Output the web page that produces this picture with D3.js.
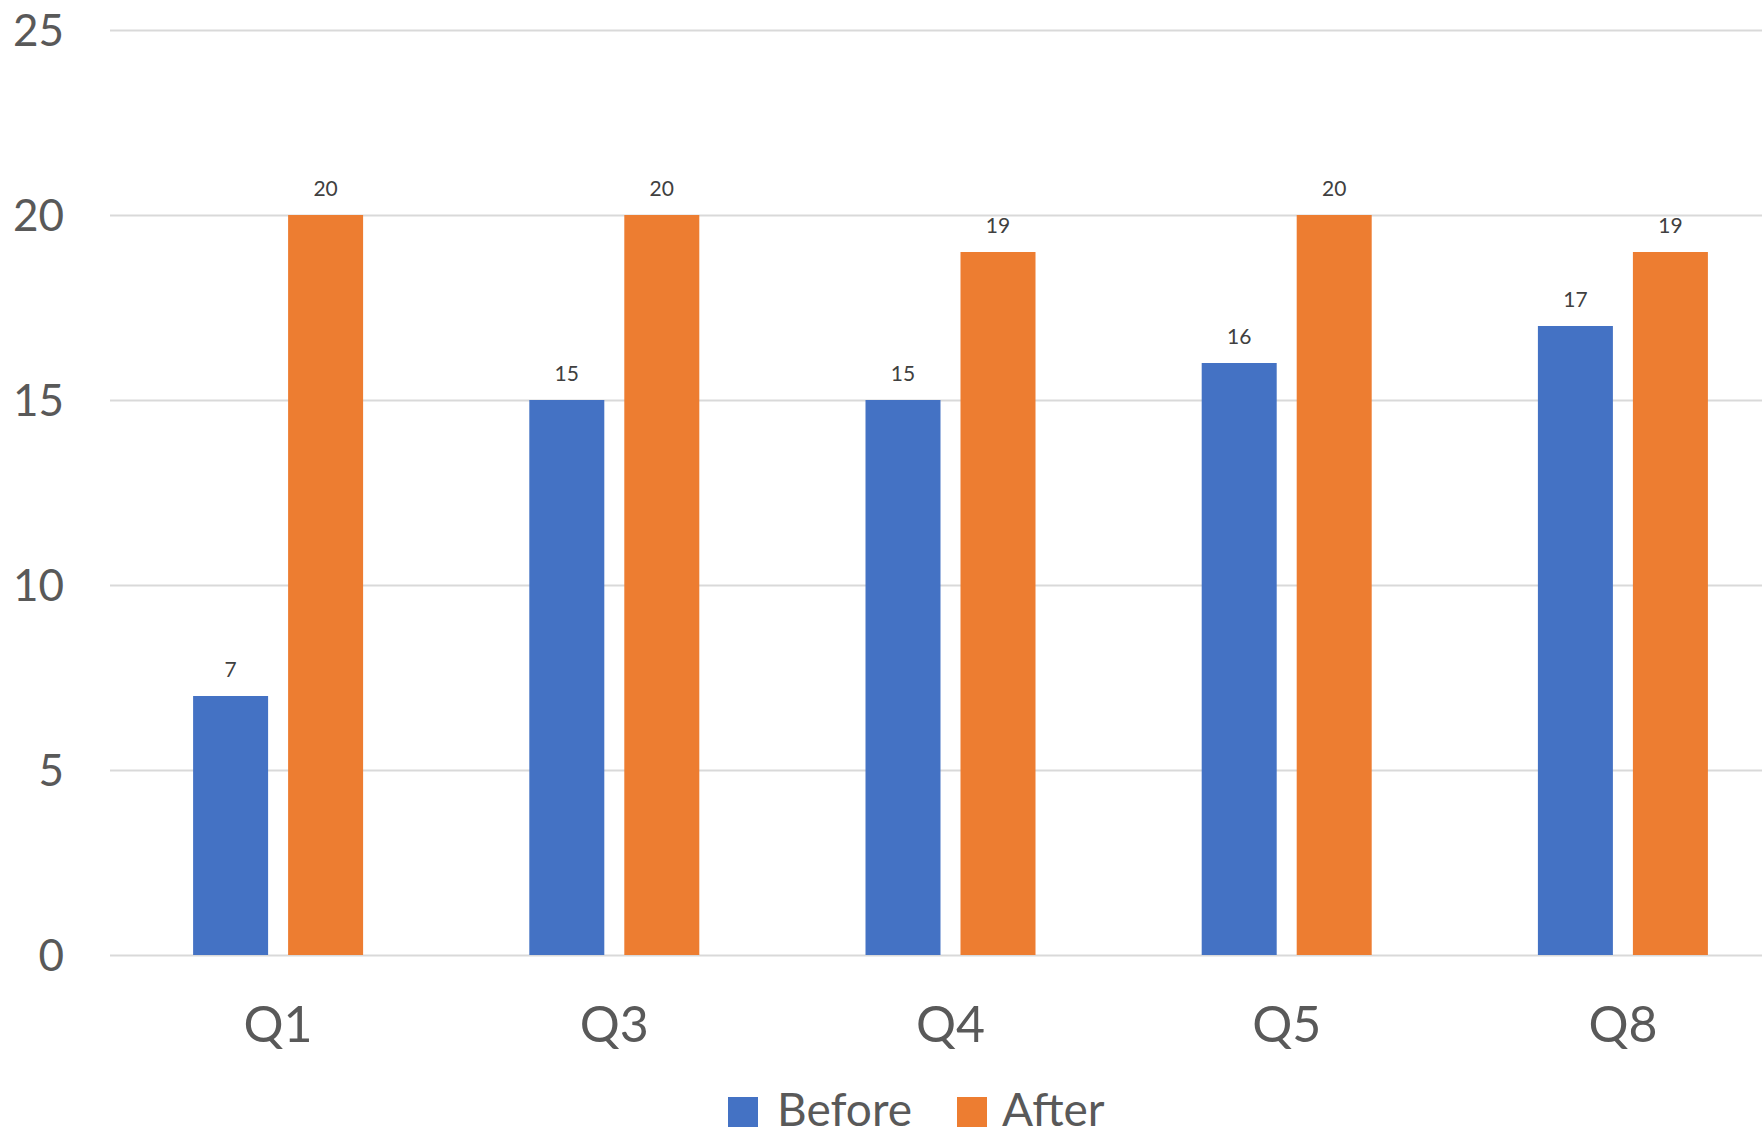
<!DOCTYPE html>
<html>
<head>
<meta charset="utf-8">
<script src="https://cdn.jsdelivr.net/npm/d3@7"></script>
<style>
  html, body { margin: 0; padding: 0; background: #ffffff; overflow: hidden; }
  svg { display: block; font-family: Lato, "Open Sans", sans-serif; }
</style>
</head>
<body>
<svg id="chart" width="1762" height="1133"></svg>
<script>
// Survey questions and scores before / after
const categories = ["Q1", "Q3", "Q4", "Q5", "Q8"];
const seriesNames = ["Before", "After"];
const beforeValues = [7, 15, 15, 16, 17];
const afterValues = [20, 20, 19, 20, 19];
const yTicks = [0, 5, 10, 15, 20, 25];

const colors = { Before: "#4472C4", After: "#ED7D31" };
const rows = categories.map((c, i) => ({ cat: c, Before: beforeValues[i], After: afterValues[i] }));

const svg = d3.select("#chart");
const W = 1762;
const plotLeft = 110, plotRight = 1791, plotTop = 30, plotBottom = 955;

const x = d3.scaleBand().domain(categories).range([plotLeft, plotRight]).paddingInner(0).paddingOuter(0);
const groupW = 170;
const x1 = d3.scaleBand().domain(seriesNames).range([0, groupW]).paddingInner(2 - groupW / 95).paddingOuter(0);
const y = d3.scaleLinear().domain([0, 25]).range([plotBottom, plotTop]);

// Horizontal gridlines
const grid = svg.append("g")
  .attr("transform", `translate(${plotLeft},0)`)
  .call(d3.axisLeft(y).tickValues(yTicks).tickSize(-(W - plotLeft)).tickFormat(""));
grid.select(".domain").remove();
grid.selectAll("line").attr("stroke", "#d9d9d9").attr("stroke-width", 2);

// Y tick labels
const yAxis = svg.append("g")
  .attr("transform", `translate(${plotLeft},0)`)
  .call(d3.axisLeft(y).tickValues(yTicks).tickSize(0).tickPadding(46));
yAxis.select(".domain").remove();
yAxis.selectAll("text")
  .attr("font-family", "Lato, 'Open Sans', sans-serif")
  .attr("font-size", 44)
  .attr("fill", "#595959")
  .attr("dy", "0.36em");

// Category labels
const xAxis = svg.append("g")
  .attr("transform", `translate(0,${plotBottom})`)
  .call(d3.axisBottom(x).tickSize(0));
xAxis.select(".domain").remove();
xAxis.selectAll("text")
  .attr("font-family", "Lato, 'Open Sans', sans-serif")
  .attr("font-size", 50)
  .attr("fill", "#595959")
  .attr("y", 87)
  .attr("dy", 0);

// Bars
const groups = svg.append("g").selectAll("g")
  .data(rows)
  .join("g")
  .attr("transform", d => `translate(${x(d.cat) + (x.bandwidth() - groupW) / 2},0)`);

groups.selectAll("rect")
  .data(d => seriesNames.map(s => ({ key: s, value: d[s] })))
  .join("rect")
  .attr("x", d => x1(d.key))
  .attr("y", d => y(d.value))
  .attr("width", x1.bandwidth())
  .attr("height", d => y(0) - y(d.value))
  .attr("fill", d => colors[d.key]);

// Value labels
groups.selectAll("text")
  .data(d => seriesNames.map(s => ({ key: s, value: d[s] })))
  .join("text")
  .attr("x", d => x1(d.key) + x1.bandwidth() / 2)
  .attr("y", d => y(d.value) - 19)
  .attr("text-anchor", "middle")
  .attr("font-size", 21)
  .attr("fill", "#404040")
  .text(d => d.value);

// Legend
const legendItems = [
  { key: "Before", sx: 728, tx: 777 },
  { key: "After", sx: 957, tx: 1002 }
];
const legend = svg.append("g");
legend.selectAll("rect")
  .data(legendItems)
  .join("rect")
  .attr("x", d => d.sx)
  .attr("y", 1097)
  .attr("width", 30)
  .attr("height", 30)
  .attr("fill", d => colors[d.key]);
legend.selectAll("text")
  .data(legendItems)
  .join("text")
  .attr("x", d => d.tx)
  .attr("y", 1126)
  .attr("font-size", 46)
  .attr("fill", "#595959")
  .text(d => d.key);
</script>
</body>
</html>
